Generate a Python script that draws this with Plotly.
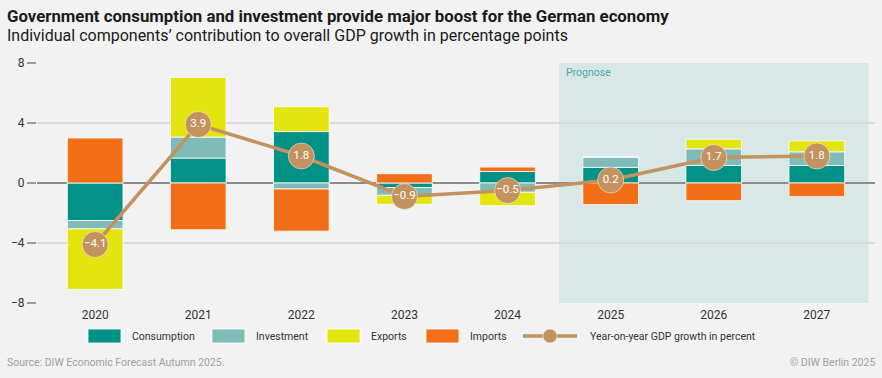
import plotly.graph_objects as go

years = ["2020", "2021", "2022", "2023", "2024", "2025", "2026", "2027"]
consumption = [-2.5, 1.66, 3.43, -0.3, 0.77, 1.04, 1.17, 1.17]
investment = [-0.56, 1.4, -0.4, -0.52, -0.62, 0.69, 1.11, 0.91]
exports = [-4.03, 3.98, 1.66, -0.6, -0.89, 0.0, 0.64, 0.73]
imports = [3.0, -3.12, -2.81, 0.62, 0.29, -1.44, -1.18, -0.91]
gdp = [-4.1, 3.9, 1.8, -0.9, -0.5, 0.2, 1.7, 1.8]
forecast_from = "2025"
y_ticks = [-8, -4, 0, 4, 8]

W, H = 882, 378
L, R, T, B = 37, 7, 63, 75
pw, ph = W - L - R, H - T - B


def px(x):
    return (x - L) / pw


def py(y):
    return (H - B - y) / ph


FONT = "Roboto"
C_CONS, C_INV, C_EXP, C_IMP, C_GDP = "#009286", "#7fbcb9", "#e3e50f", "#f26f17", "#c4925f"

series = [("Consumption", consumption, C_CONS), ("Investment", investment, C_INV),
          ("Exports", exports, C_EXP), ("Imports", imports, C_IMP)]
gdp_name = "Year-on-year GDP growth in percent"

fig = go.Figure()
for name, vals, col in series:
    fig.add_trace(go.Bar(x=years, y=vals, name=name,
                         marker=dict(color=col, line=dict(color="rgba(255,255,255,0.8)", width=1)),
                         hoverinfo="skip", showlegend=False))


def fmt(v):
    s = f"{abs(v):.1f}"
    return ("\u2212" + s) if v < 0 else s


fig.add_trace(go.Scatter(x=years, y=gdp, name=gdp_name, mode="lines+markers+text",
                         line=dict(color=C_GDP, width=3.5),
                         marker=dict(color=C_GDP, size=26, line=dict(color="rgba(255,255,255,0.5)", width=1)),
                         text=[fmt(v) for v in gdp], textposition="middle center",
                         textfont=dict(color="white", size=11.5, family=FONT), hoverinfo="skip", showlegend=False))

fi = years.index(forecast_from)
fig.add_shape(type="rect", xref="x", yref="paper", x0=fi - 0.5, x1=len(years) - 0.5, y0=0, y1=1,
              fillcolor="#d7e8e7", line=dict(width=0), layer="below")

fig.add_annotation(text="Prognose", xref="x", yref="paper", x=fi - 0.5, y=py(73), xanchor="left", yanchor="middle",
                   xshift=5, showarrow=False, font=dict(color="#4fa9a1", size=10.5, family=FONT))

fig.add_annotation(text="<b>Government consumption and investment provide major boost for the German economy</b>",
                   xref="paper", yref="paper", x=px(5), y=py(16), xanchor="left", yanchor="middle", showarrow=False,
                   font=dict(size=16.8, color="#1a1a1a", family=FONT))
fig.add_annotation(text="Individual components\u2019 contribution to overall GDP growth in percentage points",
                   xref="paper", yref="paper", x=px(5), y=py(36), xanchor="left", yanchor="middle", showarrow=False,
                   font=dict(size=16, color="#1a1a1a", family=FONT))
fig.add_annotation(text="Source: DIW Economic Forecast Autumn 2025.", xref="paper", yref="paper", x=px(5), y=py(362),
                   xanchor="left", yanchor="middle", showarrow=False, font=dict(size=10.5, color="#a0a0a0", family=FONT))
fig.add_annotation(text="\u00a9 DIW Berlin 2025", xref="paper", yref="paper", x=px(877), y=py(362),
                   xanchor="right", yanchor="middle", showarrow=False, font=dict(size=10.5, color="#a0a0a0", family=FONT))

# legend (drawn manually to get the wide swatches)
leg_y = 336
swatch_left = [88, 212, 327, 426]
for (name, _, col), x0 in zip(series, swatch_left):
    fig.add_shape(type="rect", xref="paper", yref="paper", x0=px(x0), x1=px(x0 + 33), y0=py(leg_y - 7),
                  y1=py(leg_y + 7), fillcolor=col, line=dict(color="rgba(255,255,255,0.8)", width=1))
    fig.add_annotation(text=name, xref="paper", yref="paper", x=px(x0 + 42), y=py(leg_y), xanchor="left",
                       yanchor="middle", showarrow=False, font=dict(size=10.5, color="#333333", family=FONT))
gx = 523
fig.add_shape(type="line", xref="paper", yref="paper", x0=px(gx), x1=px(gx + 54), y0=py(leg_y), y1=py(leg_y),
              line=dict(color=C_GDP, width=3.5))
fig.add_shape(type="circle", xref="paper", yref="paper", x0=px(gx + 20), x1=px(gx + 34), y0=py(leg_y - 7),
              y1=py(leg_y + 7), fillcolor=C_GDP, line=dict(color="rgba(255,255,255,0.5)", width=1))
fig.add_annotation(text=gdp_name, xref="paper", yref="paper", x=px(gx + 65), y=py(leg_y), xanchor="left",
                   yanchor="middle", showarrow=False, font=dict(size=10.5, color="#333333", family=FONT))

fig.update_layout(
    width=W, height=H, margin=dict(l=L, r=R, t=T, b=B),
    paper_bgcolor="#f2f2f2", plot_bgcolor="#f2f2f2",
    barmode="relative", bargap=0.46,
    font=dict(family=FONT, color="#333333", size=12),
    showlegend=False,
    xaxis=dict(type="category", showgrid=False, ticks="", tickfont=dict(size=12, color="#333333"),
               ticklabelstandoff=3, fixedrange=True),
    yaxis=dict(range=[-8, 8], tickvals=y_ticks, ticktext=[fmt(v).replace(".0", "") for v in y_ticks],
               ticks="outside", ticklen=9, tickwidth=2, tickcolor="#9a9a9a", showgrid=True, gridcolor="#dadada",
               gridwidth=2, zeroline=True, zerolinecolor="#8c8c8c", zerolinewidth=1.5, showline=False,
               tickfont=dict(size=12, color="#333333"), fixedrange=True),
)

fig.write_html("out.html", config={"displayModeBar": False}, post_script="document.body.style.margin='0px';")
